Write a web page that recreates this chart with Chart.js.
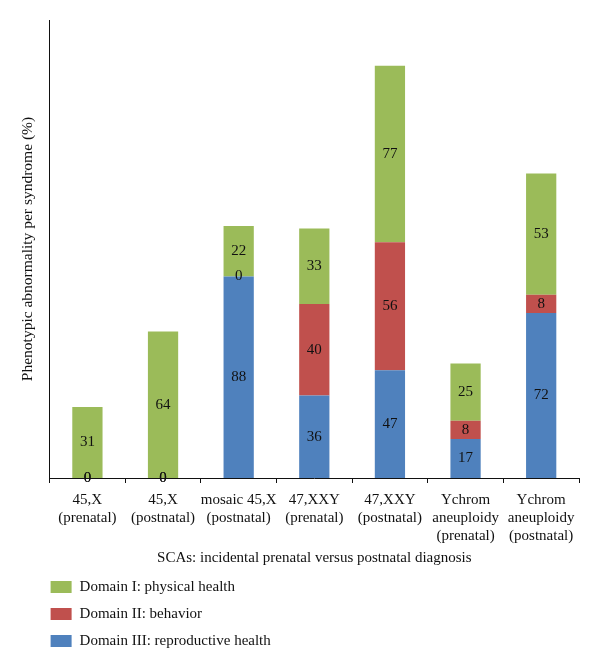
<!DOCTYPE html>
<html>
<head>
<meta charset="utf-8">
<script src="https://cdn.jsdelivr.net/npm/chart.js@4.4.0/dist/chart.umd.min.js"></script>
<style>
    html, body { margin: 0; padding: 0; background: #fff; }
</style>
</head>
<body>
<canvas id="scaChart" width="600" height="670"></canvas>
<script>
const categories = [
    ['45,X', '(prenatal)'],
    ['45,X', '(postnatal)'],
    ['mosaic 45,X', '(postnatal)'],
    ['47,XXY', '(prenatal)'],
    ['47,XXY', '(postnatal)'],
    ['Ychrom', 'aneuploidy', '(prenatal)'],
    ['Ychrom', 'aneuploidy', '(postnatal)']
];
const domainReproductive = [0, 0, 88, 36, 47, 17, 72];
const domainBehavior = [0, 0, 0, 40, 56, 8, 8];
const domainPhysical = [31, 64, 22, 33, 77, 25, 53];

const xTitle = 'SCAs: incidental prenatal versus postnatal diagnosis';
const yTitle = 'Phenotypic abnormality per syndrome (%)';

Chart.defaults.font.family = "'Liberation Serif', 'DejaVu Serif', serif";
Chart.defaults.font.size = 15;
Chart.defaults.color = '#111';

// numbers in the middle of every segment (zeros too)
const valueLabels = {
    id: 'valueLabels',
    afterDatasetsDraw(chart) {
        const ctx = chart.ctx;
        ctx.save();
        ctx.font = "15px 'Liberation Serif', serif";
        ctx.fillStyle = '#111';
        ctx.textAlign = 'center';
        ctx.textBaseline = 'middle';
        chart.data.datasets.forEach((ds, i) => {
            const meta = chart.getDatasetMeta(i);
            meta.data.forEach((bar, j) => {
                const y = (bar.y + bar.base) / 2;
                ctx.fillText(String(ds.data[j]), bar.x, y);
            });
        });
        ctx.restore();
    }
};

// vertical legend under the axis title
const stackedLegend = {
    id: 'stackedLegend',
    afterDraw(chart) {
        const ctx = chart.ctx;
        const left = chart.chartArea.left + 1;
        let y = 587;
        ctx.save();
        ctx.font = "15px 'Liberation Serif', serif";
        ctx.textBaseline = 'middle';
        ctx.textAlign = 'left';
        chart.data.datasets.slice().reverse().forEach(ds => {
            ctx.fillStyle = ds.backgroundColor;
            ctx.fillRect(left, y - 6, 21, 12);
            ctx.fillStyle = '#111';
            ctx.fillText(ds.label, left + 29, y);
            y += 27;
        });
        ctx.restore();
    }
};

new Chart(document.getElementById('scaChart'), {
    type: 'bar',
    data: {
        labels: categories,
        datasets: [
            {label: 'Domain III: reproductive health', data: domainReproductive, backgroundColor: '#4F81BD'},
            {label: 'Domain II: behavior', data: domainBehavior, backgroundColor: '#C0504D'},
            {label: 'Domain I: physical health', data: domainPhysical, backgroundColor: '#9BBB59'}
        ]
    },
    options: {
        responsive: false,
        animation: false,
        barPercentage: 0.4,
        categoryPercentage: 1,
        layout: {padding: {left: 17, right: 21, top: 20, bottom: 100}},
        plugins: {
            legend: {display: false},
            tooltip: {enabled: false}
        },
        scales: {
            x: {
                stacked: true,
                grid: {offset: true, drawOnChartArea: false, drawTicks: true, tickLength: 5, color: '#111'},
                border: {color: '#111', width: 1},
                ticks: {maxRotation: 0, autoSkip: false, color: '#111', padding: 8},
                title: {display: true, text: xTitle, color: '#111', padding: {top: -4, bottom: 3}}
            },
            y: {
                stacked: true,
                min: 0,
                max: 200,
                grid: {display: false, drawTicks: false},
                border: {color: '#111', width: 1},
                ticks: {display: false},
                title: {display: true, text: yTitle, color: '#111', font: {size: 15.5}, padding: {top: 2, bottom: 12}}
            }
        }
    },
    plugins: [valueLabels, stackedLegend]
});
</script>
</body>
</html>
